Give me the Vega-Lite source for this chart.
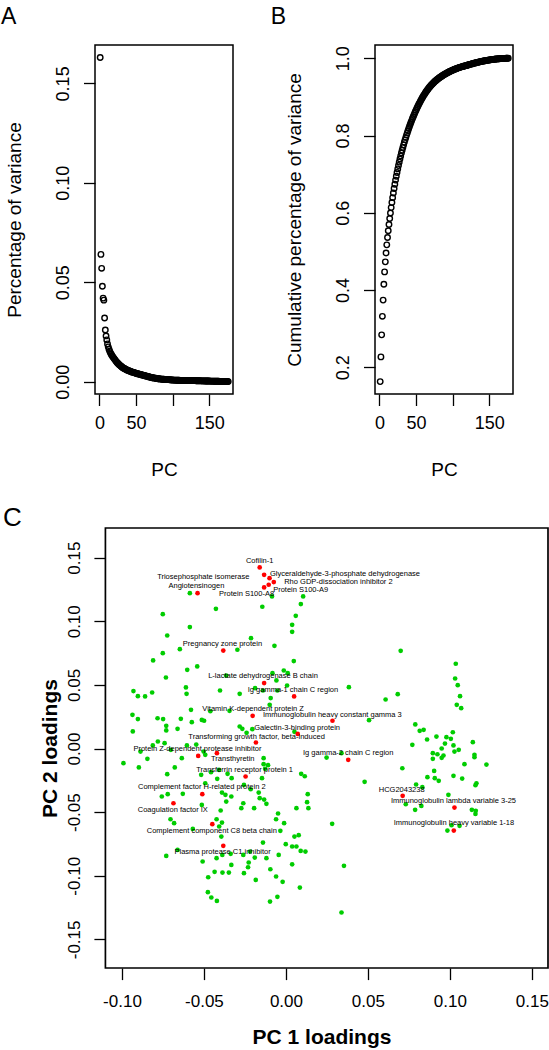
{
"$schema": "https://vega.github.io/schema/vega-lite/v6.json",
"padding": {"left": 0, "top": 5, "right": 0, "bottom": 0},
"background": "white",
"config": {
  "font": "Liberation Sans",
  "view": {"stroke": "black", "strokeWidth": 1.5},
  "axis": {"domain": false, "grid": false, "tickColor": "black", "tickWidth": 1.3, "labelColor": "black", "titleColor": "black", "labelFont": "Liberation Sans", "titleFont": "Liberation Sans", "labelFlush": false, "labelOverlap": false},
  "title": {"font": "Liberation Sans", "color": "black", "fontWeight": "normal", "anchor": "start", "frame": "group", "baseline": "alphabetic"}
},
"datasets": {
"scree": [
{"pc":1,"v":0.163,"c":0.163},{"pc":2,"v":0.064,"c":0.227},{"pc":3,"v":0.057,"c":0.284},{"pc":4,"v":0.048,"c":0.332},{"pc":5,"v":0.042,"c":0.374},{"pc":6,"v":0.041,"c":0.415},{"pc":7,"v":0.032,"c":0.447},{"pc":8,"v":0.026,"c":0.473},{"pc":9,"v":0.023,"c":0.496},{"pc":10,"v":0.021,"c":0.517},
{"pc":11,"v":0.019,"c":0.536},{"pc":12,"v":0.0175,"c":0.5535},{"pc":13,"v":0.0163,"c":0.5698},{"pc":14,"v":0.0153,"c":0.5851},{"pc":15,"v":0.0145,"c":0.5996},{"pc":16,"v":0.0138,"c":0.6134},{"pc":17,"v":0.0132,"c":0.6266},{"pc":18,"v":0.0126,"c":0.6392},{"pc":19,"v":0.0121,"c":0.6513},{"pc":20,"v":0.0116,"c":0.6629},
{"pc":21,"v":0.0111,"c":0.674},{"pc":22,"v":0.0106,"c":0.6846},{"pc":23,"v":0.0101,"c":0.6947},{"pc":24,"v":0.0097,"c":0.7044},{"pc":25,"v":0.0093,"c":0.7137},{"pc":26,"v":0.0089,"c":0.7226},{"pc":27,"v":0.0085,"c":0.7311},{"pc":28,"v":0.0082,"c":0.7393},{"pc":29,"v":0.0079,"c":0.7472},{"pc":30,"v":0.0076,"c":0.7548},
{"pc":31,"v":0.0073,"c":0.7621},{"pc":32,"v":0.007,"c":0.7691},{"pc":33,"v":0.0068,"c":0.7759},{"pc":34,"v":0.0066,"c":0.7825},{"pc":35,"v":0.0064,"c":0.7889},{"pc":36,"v":0.0062,"c":0.7951},{"pc":37,"v":0.006,"c":0.8011},{"pc":38,"v":0.0058,"c":0.8069},{"pc":39,"v":0.0057,"c":0.8126},{"pc":40,"v":0.0055,"c":0.8181},
{"pc":41,"v":0.0054,"c":0.8235},{"pc":42,"v":0.0052,"c":0.8287},{"pc":43,"v":0.0051,"c":0.8338},{"pc":44,"v":0.0049,"c":0.8387},{"pc":45,"v":0.0048,"c":0.8435},{"pc":46,"v":0.0047,"c":0.8482},{"pc":47,"v":0.0046,"c":0.8528},{"pc":48,"v":0.0045,"c":0.8573},{"pc":49,"v":0.0043,"c":0.8616},{"pc":50,"v":0.0042,"c":0.8658},
{"pc":51,"v":0.0041,"c":0.8699},{"pc":52,"v":0.004,"c":0.8739},{"pc":53,"v":0.0039,"c":0.8778},{"pc":54,"v":0.0038,"c":0.8816},{"pc":55,"v":0.0037,"c":0.8853},{"pc":56,"v":0.0036,"c":0.8889},{"pc":57,"v":0.0035,"c":0.8924},{"pc":58,"v":0.0034,"c":0.8958},{"pc":59,"v":0.0033,"c":0.8991},{"pc":60,"v":0.0032,"c":0.9023},
{"pc":61,"v":0.0031,"c":0.9054},{"pc":62,"v":0.003,"c":0.9084},{"pc":63,"v":0.0029,"c":0.9113},{"pc":64,"v":0.0028,"c":0.9141},{"pc":65,"v":0.0027,"c":0.9168},{"pc":66,"v":0.0026,"c":0.9194},{"pc":67,"v":0.0025,"c":0.9219},{"pc":68,"v":0.0024,"c":0.9243},{"pc":69,"v":0.0023,"c":0.9266},{"pc":70,"v":0.0022,"c":0.9288},
{"pc":71,"v":0.0021,"c":0.9309},{"pc":72,"v":0.002,"c":0.9329},{"pc":73,"v":0.002,"c":0.9349},{"pc":74,"v":0.0019,"c":0.9368},{"pc":75,"v":0.0018,"c":0.9386},{"pc":76,"v":0.0018,"c":0.9404},{"pc":77,"v":0.0017,"c":0.9421},{"pc":78,"v":0.0016,"c":0.9437},{"pc":79,"v":0.0016,"c":0.9453},{"pc":80,"v":0.0015,"c":0.9468},
{"pc":81,"v":0.0015,"c":0.9483},{"pc":82,"v":0.0014,"c":0.9497},{"pc":83,"v":0.0014,"c":0.9511},{"pc":84,"v":0.0013,"c":0.9524},{"pc":85,"v":0.0013,"c":0.9537},{"pc":86,"v":0.0012,"c":0.9549},{"pc":87,"v":0.0012,"c":0.9561},{"pc":88,"v":0.0012,"c":0.9573},{"pc":89,"v":0.0011,"c":0.9584},{"pc":90,"v":0.0011,"c":0.9595},
{"pc":91,"v":0.0011,"c":0.9606},{"pc":92,"v":0.0011,"c":0.9617},{"pc":93,"v":0.001,"c":0.9627},{"pc":94,"v":0.001,"c":0.9637},{"pc":95,"v":0.001,"c":0.9647},{"pc":96,"v":0.001,"c":0.9657},{"pc":97,"v":0.0009,"c":0.9666},{"pc":98,"v":0.0009,"c":0.9675},{"pc":99,"v":0.0009,"c":0.9684},{"pc":100,"v":0.0009,"c":0.9693},
{"pc":101,"v":0.0008,"c":0.9701},{"pc":102,"v":0.0008,"c":0.9709},{"pc":103,"v":0.0008,"c":0.9717},{"pc":104,"v":0.0008,"c":0.9725},{"pc":105,"v":0.0007,"c":0.9732},{"pc":106,"v":0.0007,"c":0.9739},{"pc":107,"v":0.0007,"c":0.9746},{"pc":108,"v":0.0007,"c":0.9753},{"pc":109,"v":0.0007,"c":0.976},{"pc":110,"v":0.0006,"c":0.9766},
{"pc":111,"v":0.0006,"c":0.9772},{"pc":112,"v":0.0006,"c":0.9778},{"pc":113,"v":0.0006,"c":0.9784},{"pc":114,"v":0.0006,"c":0.979},{"pc":115,"v":0.0005,"c":0.9795},{"pc":116,"v":0.0005,"c":0.98},{"pc":117,"v":0.0005,"c":0.9805},{"pc":118,"v":0.0005,"c":0.981},{"pc":119,"v":0.0005,"c":0.9815},{"pc":120,"v":0.0005,"c":0.982},
{"pc":121,"v":0.0006,"c":0.9826},{"pc":122,"v":0.00059,"c":0.9832},{"pc":123,"v":0.00058,"c":0.9838},{"pc":124,"v":0.00057,"c":0.9843},{"pc":125,"v":0.00056,"c":0.9849},{"pc":126,"v":0.00055,"c":0.9855},{"pc":127,"v":0.00054,"c":0.986},{"pc":128,"v":0.00053,"c":0.9865},{"pc":129,"v":0.00052,"c":0.987},{"pc":130,"v":0.00051,"c":0.9876},
{"pc":131,"v":0.0005,"c":0.9881},{"pc":132,"v":0.00049,"c":0.9885},{"pc":133,"v":0.00048,"c":0.989},{"pc":134,"v":0.00047,"c":0.9895},{"pc":135,"v":0.00046,"c":0.99},{"pc":136,"v":0.00045,"c":0.9904},{"pc":137,"v":0.00044,"c":0.9908},{"pc":138,"v":0.00043,"c":0.9913},{"pc":139,"v":0.00042,"c":0.9917},{"pc":140,"v":0.00041,"c":0.9921},
{"pc":141,"v":0.0004,"c":0.9925},{"pc":142,"v":0.00039,"c":0.9929},{"pc":143,"v":0.00038,"c":0.9933},{"pc":144,"v":0.00037,"c":0.9936},{"pc":145,"v":0.00036,"c":0.994},{"pc":146,"v":0.00035,"c":0.9944},{"pc":147,"v":0.00034,"c":0.9947},{"pc":148,"v":0.00033,"c":0.995},{"pc":149,"v":0.00032,"c":0.9953},{"pc":150,"v":0.00031,"c":0.9957},
{"pc":151,"v":0.0003,"c":0.996},{"pc":152,"v":0.00029,"c":0.9962},{"pc":153,"v":0.00028,"c":0.9965},{"pc":154,"v":0.00027,"c":0.9968},{"pc":155,"v":0.00026,"c":0.9971},{"pc":156,"v":0.00025,"c":0.9973},{"pc":157,"v":0.00024,"c":0.9975},{"pc":158,"v":0.00023,"c":0.9978},{"pc":159,"v":0.00022,"c":0.998},{"pc":160,"v":0.00021,"c":0.9982},
{"pc":161,"v":0.0002,"c":0.9984},{"pc":162,"v":0.00019,"c":0.9986},{"pc":163,"v":0.00018,"c":0.9988},{"pc":164,"v":0.00017,"c":0.9989},{"pc":165,"v":0.00016,"c":0.9991},{"pc":166,"v":0.00015,"c":0.9993},{"pc":167,"v":0.00014,"c":0.9994},{"pc":168,"v":0.00013,"c":0.9995},{"pc":169,"v":0.00012,"c":0.9996},{"pc":170,"v":0.00011,"c":0.9998},
{"pc":171,"v":0.0001,"c":0.9999},{"pc":172,"v":0.00009,"c":0.9999},{"pc":173,"v":0.00008,"c":1},{"pc":174,"v":0.00007,"c":1},{"pc":175,"v":0.00006,"c":1},{"pc":176,"v":0.00005,"c":1}
],
"load": [
{"x":-0.0586,"y":0.1221,"s":"g"},{"x":-0.0085,"y":0.1195,"s":"g"},{"x":0.0105,"y":0.1195,"s":"g"},{"x":0.0091,"y":0.1135,"s":"g"},{"x":-0.0427,"y":0.1098,"s":"g"},{"x":-0.0144,"y":0.1114,"s":"g"},{"x":-0.0751,"y":0.1056,"s":"g"},{"x":0.006,"y":0.1043,"s":"g"},{"x":0.0038,"y":0.0972,"s":"g"},{"x":0.0038,"y":0.0917,"s":"g"},
{"x":-0.0586,"y":0.0954,"s":"g"},{"x":-0.0724,"y":0.0888,"s":"g"},{"x":-0.0213,"y":0.0867,"s":"g"},{"x":-0.0647,"y":0.0781,"s":"g"},{"x":-0.007,"y":0.0807,"s":"g"},{"x":-0.0296,"y":0.0776,"s":"g"},{"x":-0.0751,"y":0.0749,"s":"g"},{"x":-0.081,"y":0.0692,"s":"g"},{"x":0.0048,"y":0.0687,"s":"g"},{"x":-0.0541,"y":0.0645,"s":"g"},
{"x":-0.0602,"y":0.0618,"s":"g"},{"x":-0.0732,"y":0.0558,"s":"g"},{"x":-0.0082,"y":0.0592,"s":"g"},{"x":-0.0013,"y":0.0613,"s":"g"},{"x":0.0011,"y":0.0592,"s":"g"},{"x":-0.0058,"y":0.0535,"s":"g"},{"x":0.0007,"y":0.0495,"s":"g"},{"x":-0.061,"y":0.048,"s":"g"},{"x":-0.0606,"y":0.043,"s":"g"},{"x":-0.093,"y":0.0451,"s":"g"},
{"x":-0.0903,"y":0.0411,"s":"g"},{"x":-0.0859,"y":0.0409,"s":"g"},{"x":-0.0816,"y":0.044,"s":"g"},{"x":-0.0402,"y":0.0456,"s":"g"},{"x":-0.0282,"y":0.043,"s":"g"},{"x":-0.0188,"y":0.0474,"s":"g"},{"x":-0.014,"y":0.0456,"s":"g"},{"x":-0.0052,"y":0.0456,"s":"g"},{"x":-0.0093,"y":0.0396,"s":"g"},{"x":-0.0099,"y":0.0343,"s":"g"},
{"x":-0.0579,"y":0.0304,"s":"g"},{"x":-0.0461,"y":0.0293,"s":"g"},{"x":-0.0936,"y":0.0265,"s":"g"},{"x":-0.0903,"y":0.0231,"s":"g"},{"x":-0.0783,"y":0.0238,"s":"g"},{"x":-0.0749,"y":0.0231,"s":"g"},{"x":-0.0641,"y":0.0233,"s":"g"},{"x":-0.0574,"y":0.0207,"s":"g"},{"x":-0.0513,"y":0.0225,"s":"g"},{"x":-0.0499,"y":0.0218,"s":"g"},
{"x":-0.073,"y":0.0178,"s":"g"},{"x":-0.073,"y":0.0142,"s":"g"},{"x":-0.0934,"y":0.0134,"s":"g"},{"x":-0.0661,"y":0.0155,"s":"g"},{"x":-0.0282,"y":0.0173,"s":"g"},{"x":-0.0266,"y":0.0155,"s":"g"},{"x":-0.024,"y":0.0123,"s":"g"},{"x":-0.0205,"y":0.0152,"s":"g"},{"x":0.0052,"y":0.0131,"s":"g"},{"x":-0.0781,"y":0.0055,"s":"g"},
{"x":-0.074,"y":0.0042,"s":"g"},{"x":-0.0812,"y":0.0024,"s":"g"},{"x":-0.0887,"y":-0.0024,"s":"g"},{"x":-0.0702,"y":-0.001,"s":"g"},{"x":-0.0604,"y":0.0024,"s":"g"},{"x":-0.0547,"y":0.0031,"s":"g"},{"x":-0.0845,"y":-0.0081,"s":"g"},{"x":-0.0635,"y":-0.0076,"s":"g"},{"x":-0.0991,"y":-0.0115,"s":"g"},{"x":-0.0897,"y":-0.0149,"s":"g"},
{"x":-0.0678,"y":-0.0149,"s":"g"},{"x":-0.0724,"y":-0.0202,"s":"g"},{"x":-0.0502,"y":-0.0024,"s":"g"},{"x":-0.0492,"y":-0.005,"s":"g"},{"x":-0.0136,"y":-0.0076,"s":"g"},{"x":-0.0136,"y":-0.0123,"s":"g"},{"x":-0.0109,"y":-0.0131,"s":"g"},{"x":-0.0127,"y":-0.016,"s":"g"},{"x":-0.0517,"y":-0.0207,"s":"g"},{"x":-0.0457,"y":-0.0186,"s":"g"},
{"x":-0.0408,"y":-0.0168,"s":"g"},{"x":-0.0331,"y":-0.0233,"s":"g"},{"x":-0.0356,"y":-0.0199,"s":"g"},{"x":-0.0419,"y":-0.0238,"s":"g"},{"x":0.0093,"y":-0.0199,"s":"g"},{"x":0.0115,"y":-0.0218,"s":"g"},{"x":-0.0146,"y":-0.0233,"s":"g"},{"x":-0.0256,"y":-0.0286,"s":"g"},{"x":-0.0492,"y":-0.0273,"s":"g"},{"x":-0.0629,"y":-0.0356,"s":"g"},
{"x":-0.0721,"y":-0.0359,"s":"g"},{"x":-0.0757,"y":-0.0377,"s":"g"},{"x":-0.039,"y":-0.0346,"s":"g"},{"x":-0.0369,"y":-0.0364,"s":"g"},{"x":-0.0333,"y":-0.0377,"s":"g"},{"x":-0.0364,"y":-0.0417,"s":"g"},{"x":-0.0215,"y":-0.032,"s":"g"},{"x":-0.0166,"y":-0.0346,"s":"g"},{"x":-0.016,"y":-0.039,"s":"g"},{"x":-0.0133,"y":-0.0401,"s":"g"},
{"x":-0.0119,"y":-0.0435,"s":"g"},{"x":-0.026,"y":-0.043,"s":"g"},{"x":-0.0194,"y":-0.0469,"s":"g"},{"x":-0.0272,"y":-0.0469,"s":"g"},{"x":-0.0513,"y":-0.0443,"s":"g"},{"x":-0.0048,"y":-0.0511,"s":"g"},{"x":-0.006,"y":-0.0556,"s":"g"},{"x":-0.0011,"y":-0.0587,"s":"g"},{"x":0.0064,"y":-0.0469,"s":"g"},{"x":0.0133,"y":-0.0359,"s":"g"},
{"x":0.0129,"y":-0.0422,"s":"g"},{"x":0.0137,"y":-0.0469,"s":"g"},{"x":-0.0704,"y":-0.0556,"s":"g"},{"x":-0.0682,"y":-0.0587,"s":"g"},{"x":-0.0398,"y":-0.0487,"s":"g"},{"x":-0.0423,"y":-0.0556,"s":"g"},{"x":-0.039,"y":-0.0582,"s":"g"},{"x":-0.0407,"y":-0.0613,"s":"g"},{"x":-0.0394,"y":-0.0692,"s":"g"},{"x":-0.0568,"y":-0.0632,"s":"g"},
{"x":-0.0034,"y":-0.0647,"s":"g"},{"x":0.0052,"y":-0.0692,"s":"g"},{"x":0.0078,"y":-0.0681,"s":"g"},{"x":-0.0001,"y":-0.0752,"s":"g"},{"x":0.0038,"y":-0.077,"s":"g"},{"x":0.0064,"y":-0.077,"s":"g"},{"x":0.009,"y":-0.0805,"s":"g"},{"x":0.0119,"y":-0.081,"s":"g"},{"x":-0.014,"y":-0.0739,"s":"g"},{"x":-0.019,"y":-0.0857,"s":"g"},
{"x":-0.0219,"y":-0.081,"s":"g"},{"x":-0.026,"y":-0.0836,"s":"g"},{"x":-0.0337,"y":-0.0828,"s":"g"},{"x":-0.0388,"y":-0.0836,"s":"g"},{"x":-0.0661,"y":-0.0797,"s":"g"},{"x":-0.073,"y":-0.0844,"s":"g"},{"x":-0.0508,"y":-0.0888,"s":"g"},{"x":-0.0423,"y":-0.0862,"s":"g"},{"x":-0.0333,"y":-0.0915,"s":"g"},{"x":-0.0231,"y":-0.0933,"s":"g"},
{"x":-0.0227,"y":-0.0896,"s":"g"},{"x":-0.0095,"y":-0.0949,"s":"g"},{"x":-0.006,"y":-0.1006,"s":"g"},{"x":-0.0474,"y":-0.1012,"s":"g"},{"x":-0.0387,"y":-0.0975,"s":"g"},{"x":-0.0348,"y":-0.0975,"s":"g"},{"x":-0.0184,"y":-0.1033,"s":"g"},{"x":-0.002,"y":-0.1048,"s":"g"},{"x":0.0085,"y":-0.1093,"s":"g"},{"x":-0.0476,"y":-0.1129,"s":"g"},
{"x":-0.0455,"y":-0.1171,"s":"g"},{"x":-0.0421,"y":-0.1198,"s":"g"},{"x":-0.0097,"y":-0.1203,"s":"g"},{"x":-0.0052,"y":-0.1166,"s":"g"},{"x":-0.0364,"y":0.0573,"s":"g"},{"x":-0.0344,"y":0.0296,"s":"g"},{"x":-0.0256,"y":-0.098,"s":"g"},{"x":-0.0119,"y":-0.0862,"s":"g"},{"x":-0.0044,"y":-0.0836,"s":"g"},{"x":0.0038,"y":-0.091,"s":"g"},
{"x":-0.0435,"y":-0.0969,"s":"g"},
{"x":0.07,"y":0.0768,"s":"g"},{"x":0.1036,"y":0.0666,"s":"g"},{"x":0.1032,"y":0.055,"s":"g"},{"x":0.1048,"y":0.0498,"s":"g"},{"x":0.1062,"y":0.0411,"s":"g"},{"x":0.1042,"y":0.0343,"s":"g"},{"x":0.1069,"y":0.0317,"s":"g"},{"x":0.0384,"y":0.0482,"s":"g"},{"x":0.0682,"y":0.0427,"s":"g"},{"x":0.0608,"y":0.0385,"s":"g"},
{"x":0.0507,"y":0.0223,"s":"g"},{"x":0.0789,"y":0.0189,"s":"g"},{"x":0.0816,"y":0.0139,"s":"g"},{"x":0.084,"y":0.0147,"s":"g"},{"x":0.1018,"y":0.0128,"s":"g"},{"x":0.0861,"y":0.0071,"s":"g"},{"x":0.0918,"y":0.0094,"s":"g"},{"x":0.0979,"y":0.0089,"s":"g"},{"x":0.1006,"y":0.0076,"s":"g"},{"x":0.0771,"y":0.0029,"s":"g"},
{"x":0.097,"y":0.0039,"s":"g"},{"x":0.1022,"y":0.0024,"s":"g"},{"x":0.114,"y":0.005,"s":"g"},{"x":0.095,"y":0.0,"s":"g"},{"x":0.1028,"y":-0.0024,"s":"g"},{"x":0.1054,"y":-0.001,"s":"g"},{"x":0.0896,"y":-0.0037,"s":"g"},{"x":0.0924,"y":-0.0045,"s":"g"},{"x":0.0961,"y":-0.0055,"s":"g"},{"x":0.095,"y":-0.0073,"s":"g"},
{"x":0.0896,"y":-0.0081,"s":"g"},{"x":0.115,"y":-0.005,"s":"g"},{"x":0.115,"y":-0.0068,"s":"g"},{"x":0.1089,"y":-0.0123,"s":"g"},{"x":0.1223,"y":-0.0126,"s":"g"},{"x":0.071,"y":-0.0155,"s":"g"},{"x":0.0904,"y":-0.0176,"s":"g"},{"x":0.0863,"y":-0.0225,"s":"g"},{"x":0.0908,"y":-0.0233,"s":"g"},{"x":0.0932,"y":-0.0254,"s":"g"},
{"x":0.1022,"y":-0.0215,"s":"g"},{"x":0.1075,"y":-0.0236,"s":"g"},{"x":0.1162,"y":-0.0273,"s":"g"},{"x":0.1156,"y":-0.0288,"s":"g"},{"x":0.048,"y":-0.0262,"s":"g"},{"x":0.0794,"y":-0.0283,"s":"g"},{"x":0.0832,"y":-0.0304,"s":"g"},{"x":0.0991,"y":-0.0364,"s":"g"},{"x":0.0731,"y":-0.0438,"s":"g"},{"x":0.0788,"y":-0.0482,"s":"g"},
{"x":0.0826,"y":-0.0451,"s":"g"},{"x":0.1134,"y":-0.0482,"s":"g"},{"x":0.1156,"y":-0.0514,"s":"g"},{"x":0.1158,"y":-0.049,"s":"g"},{"x":0.0985,"y":-0.0645,"s":"g"},{"x":0.1059,"y":-0.0608,"s":"g"},{"x":0.0282,"y":-0.0592,"s":"g"},{"x":0.0354,"y":-0.0922,"s":"g"},{"x":0.0339,"y":-0.1289,"s":"g"},{"x":0.0248,"y":-0.0071,"s":"g"},
{"x":0.101,"y":-0.0603,"s":"g"},{"x":0.0339,"y":-0.0037,"s":"g"},
{"x":-0.016,"y":0.1423,"s":"r"},{"x":-0.0133,"y":0.1365,"s":"r"},{"x":-0.010,"y":0.1339,"s":"r"},{"x":-0.0074,"y":0.1308,"s":"r"},{"x":-0.0105,"y":0.1287,"s":"r"},{"x":-0.0133,"y":0.1266,"s":"r"},{"x":-0.0539,"y":0.1221,"s":"r"},{"x":-0.0382,"y":0.077,"s":"r"},{"x":-0.0133,"y":0.0514,"s":"r"},{"x":0.005,"y":0.0409,"s":"r"},
{"x":-0.0203,"y":0.0257,"s":"r"},{"x":0.0072,"y":0.0115,"s":"r"},{"x":-0.0183,"y":0.0047,"s":"r"},{"x":-0.0535,"y":-0.0058,"s":"r"},{"x":-0.0421,"y":-0.0037,"s":"r"},{"x":-0.0246,"y":-0.022,"s":"r"},{"x":-0.051,"y":-0.0359,"s":"r"},{"x":-0.0686,"y":-0.043,"s":"r"},{"x":-0.0449,"y":-0.0595,"s":"r"},{"x":-0.0382,"y":-0.0765,"s":"r"},
{"x":0.0284,"y":0.0218,"s":"r"},{"x":0.038,"y":-0.0089,"s":"r"},{"x":0.0712,"y":-0.0372,"s":"r"},{"x":0.1028,"y":-0.0464,"s":"r"},{"x":0.1024,"y":-0.0645,"s":"r"}
],
"labels": [
{"t":"Cofilin-1","lx":-0.016,"ly":0.147},
{"t":"Triosephosphate isomerase","lx":-0.0504,"ly":0.1344},
{"t":"Angiotensinogen","lx":-0.0546,"ly":0.1274},
{"t":"Protein S100-A8","lx":-0.024,"ly":0.1216},
{"t":"Glyceraldehyde-3-phosphate dehydrogenase","lx":0.036,"ly":0.137},
{"t":"Rho GDP-dissociation inhibitor 2","lx":0.032,"ly":0.1307},
{"t":"Protein S100-A9","lx":0.009,"ly":0.1242},
{"t":"Pregnancy zone protein","lx":-0.0387,"ly":0.0823},
{"t":"L-lactate dehydrogenase B chain","lx":-0.014,"ly":0.0566},
{"t":"Ig gamma-1 chain C region","lx":0.0043,"ly":0.0458},
{"t":"Vitamin K-dependent protein Z","lx":-0.020,"ly":0.0309},
{"t":"Immunoglobulin heavy constant gamma 3","lx":0.0283,"ly":0.0265},
{"t":"Galectin-3-binding protein","lx":0.0068,"ly":0.0165},
{"t":"Transforming growth factor, beta-induced","lx":-0.0179,"ly":0.0094},
{"t":"Protein Z-dependent protease inhibitor","lx":-0.054,"ly":0.0},
{"t":"Transthyretin","lx":-0.0324,"ly":-0.0084},
{"t":"Transferrin receptor protein 1","lx":-0.0252,"ly":-0.0168},
{"t":"Ig gamma-2 chain C region","lx":0.038,"ly":-0.0037},
{"t":"Complement factor H-related protein 2","lx":-0.0513,"ly":-0.0304},
{"t":"Coagulation factor IX","lx":-0.069,"ly":-0.0482},
{"t":"Complement component C8 beta chain","lx":-0.0452,"ly":-0.0647},
{"t":"Plasma protease C1 inhibitor","lx":-0.0386,"ly":-0.081},
{"t":"HCG2043238","lx":0.0706,"ly":-0.033},
{"t":"Immunoglobulin lambda variable 3-25","lx":0.1022,"ly":-0.0411},
{"t":"Immunoglobulin heavy variable 1-18","lx":0.1025,"ly":-0.0587}
]
},
"spacing": 24,
"vconcat": [
{
 "spacing": 34,
 "hconcat": [
 {
  "width": 138, "height": 349,
  "title": {"text": "A", "fontSize": 23, "dx": -94, "offset": 15.7},
  "data": {"name": "scree"},
  "mark": {"type": "point", "shape": "circle", "filled": false, "color": "black", "size": 30, "strokeWidth": 1.4, "opacity": 1},
  "encoding": {
   "x": {"field": "pc", "type": "quantitative", "scale": {"domain": [-6.1, 182.5], "nice": false, "zero": false},
     "axis": {"values": [0, 50, 100, 150], "labelExpr": "datum.value == 100 ? '' : datum.label", "tickSize": 11.5, "labelFontSize": 18, "labelPadding": 9, "title": "PC", "titleFontSize": 19, "titleFontWeight": "normal", "titlePadding": 28}},
   "y": {"field": "v", "type": "quantitative", "scale": {"domain": [-0.0062, 0.1693], "nice": false, "zero": false},
     "axis": {"values": [0, 0.05, 0.1, 0.15], "format": ".2f", "tickSize": 11.5, "labelAngle": -90, "labelAlign": "center", "labelBaseline": "bottom", "labelPadding": 11, "labelFontSize": 18, "title": "Percentage of variance", "titleFontSize": 19, "titleFontWeight": "normal", "titlePadding": 30}}
  }
 },
 {
  "width": 138, "height": 349,
  "title": {"text": "B", "fontSize": 23, "dx": -104.3, "offset": 15.7},
  "data": {"name": "scree"},
  "mark": {"type": "point", "shape": "circle", "filled": false, "color": "black", "size": 30, "strokeWidth": 1.4, "opacity": 1},
  "encoding": {
   "x": {"field": "pc", "type": "quantitative", "scale": {"domain": [-6.1, 182.5], "nice": false, "zero": false},
     "axis": {"values": [0, 50, 100, 150], "labelExpr": "datum.value == 100 ? '' : datum.label", "tickSize": 11.5, "labelFontSize": 18, "labelPadding": 9, "title": "PC", "titleFontSize": 19, "titleFontWeight": "normal", "titlePadding": 28}},
   "y": {"field": "c", "type": "quantitative", "scale": {"domain": [0.1309, 1.0344], "nice": false, "zero": false},
     "axis": {"values": [0.2, 0.4, 0.6, 0.8, 1.0], "format": ".1f", "tickSize": 11.5, "labelAngle": -90, "labelAlign": "center", "labelBaseline": "bottom", "labelPadding": 11, "labelFontSize": 18, "title": "Cumulative percentage of variance", "titleFontSize": 19, "titleFontWeight": "normal", "titlePadding": 30}}
  }
 }
 ]
},
{
 "width": 453, "height": 440,
 "view": {"stroke": null},
 "title": {"text": "C", "fontSize": 26, "dx": -92, "offset": -4},
 "layer": [
  {
   "data": {"values": [{}]},
   "mark": {"type": "rect", "filled": false, "stroke": "black", "strokeWidth": 1.7},
   "encoding": {
    "x": {"datum": -0.1101, "type": "quantitative", "scale": {"domain": [-0.11645, 0.15985], "nice": false, "zero": false},
      "axis": {"values": [-0.1, -0.05, 0, 0.05, 0.1, 0.15], "format": ".2f", "labelExpr": "replace(datum.label, '\u2212', '-')", "tickSize": 11.6, "labelFontSize": 17, "labelPadding": 13.5, "title": "PC 1 loadings", "titleFontSize": 21, "titleFontWeight": "bold", "titlePadding": 17}},
    "x2": {"datum": 0.15985},
    "y": {"datum": 0.1733, "type": "quantitative", "scale": {"domain": [-0.1725, 0.1733], "nice": false, "zero": false},
      "axis": {"offset": -10.5, "values": [-0.15, -0.1, -0.05, 0, 0.05, 0.1, 0.15], "format": ".2f", "labelExpr": "replace(datum.label, '\u2212', '-')", "tickSize": 11.6, "labelAngle": -90, "labelAlign": "center", "labelBaseline": "bottom", "labelPadding": 10.5, "labelFontSize": 17, "title": "PC 2 loadings", "titleFontSize": 21, "titleFontWeight": "bold", "titlePadding": 5}},
    "y2": {"datum": -0.1725}
   }
  },
  {
   "data": {"name": "load"},
   "mark": {"type": "circle", "size": 22, "opacity": 1},
   "encoding": {
    "x": {"field": "x", "type": "quantitative", "scale": {"domain": [-0.11645, 0.15985], "nice": false, "zero": false},
      "axis": {"values": [-0.1, -0.05, 0, 0.05, 0.1, 0.15], "format": ".2f", "labelExpr": "replace(datum.label, '\u2212', '-')", "tickSize": 11.6, "labelFontSize": 17, "labelPadding": 13.5, "title": "PC 1 loadings", "titleFontSize": 21, "titleFontWeight": "bold", "titlePadding": 17}},
    "y": {"field": "y", "type": "quantitative", "scale": {"domain": [-0.1725, 0.1733], "nice": false, "zero": false},
      "axis": {"offset": -10.5, "values": [-0.15, -0.1, -0.05, 0, 0.05, 0.1, 0.15], "format": ".2f", "labelExpr": "replace(datum.label, '\u2212', '-')", "tickSize": 11.6, "labelAngle": -90, "labelAlign": "center", "labelBaseline": "bottom", "labelPadding": 10.5, "labelFontSize": 17, "title": "PC 2 loadings", "titleFontSize": 21, "titleFontWeight": "bold", "titlePadding": 5}},
    "color": {"field": "s", "type": "nominal", "scale": {"domain": ["g", "r"], "range": ["#00CD00", "#FF0000"]}, "legend": null}
   }
  },
  {
   "data": {"name": "labels"},
   "mark": {"type": "text", "fontSize": 7.5, "color": "#000000", "align": "center", "baseline": "middle", "font": "Liberation Sans"},
   "encoding": {
    "x": {"field": "lx", "type": "quantitative", "scale": {"domain": [-0.11645, 0.15985], "nice": false, "zero": false},
      "axis": {"values": [-0.1, -0.05, 0, 0.05, 0.1, 0.15], "format": ".2f", "labelExpr": "replace(datum.label, '\u2212', '-')", "tickSize": 11.6, "labelFontSize": 17, "labelPadding": 13.5, "title": "PC 1 loadings", "titleFontSize": 21, "titleFontWeight": "bold", "titlePadding": 17}},
    "y": {"field": "ly", "type": "quantitative", "scale": {"domain": [-0.1725, 0.1733], "nice": false, "zero": false},
      "axis": {"offset": -10.5, "values": [-0.15, -0.1, -0.05, 0, 0.05, 0.1, 0.15], "format": ".2f", "labelExpr": "replace(datum.label, '\u2212', '-')", "tickSize": 11.6, "labelAngle": -90, "labelAlign": "center", "labelBaseline": "bottom", "labelPadding": 10.5, "labelFontSize": 17, "title": "PC 2 loadings", "titleFontSize": 21, "titleFontWeight": "bold", "titlePadding": 5}},
    "text": {"field": "t", "type": "nominal"}
   }
  }
 ]
}
]
}
